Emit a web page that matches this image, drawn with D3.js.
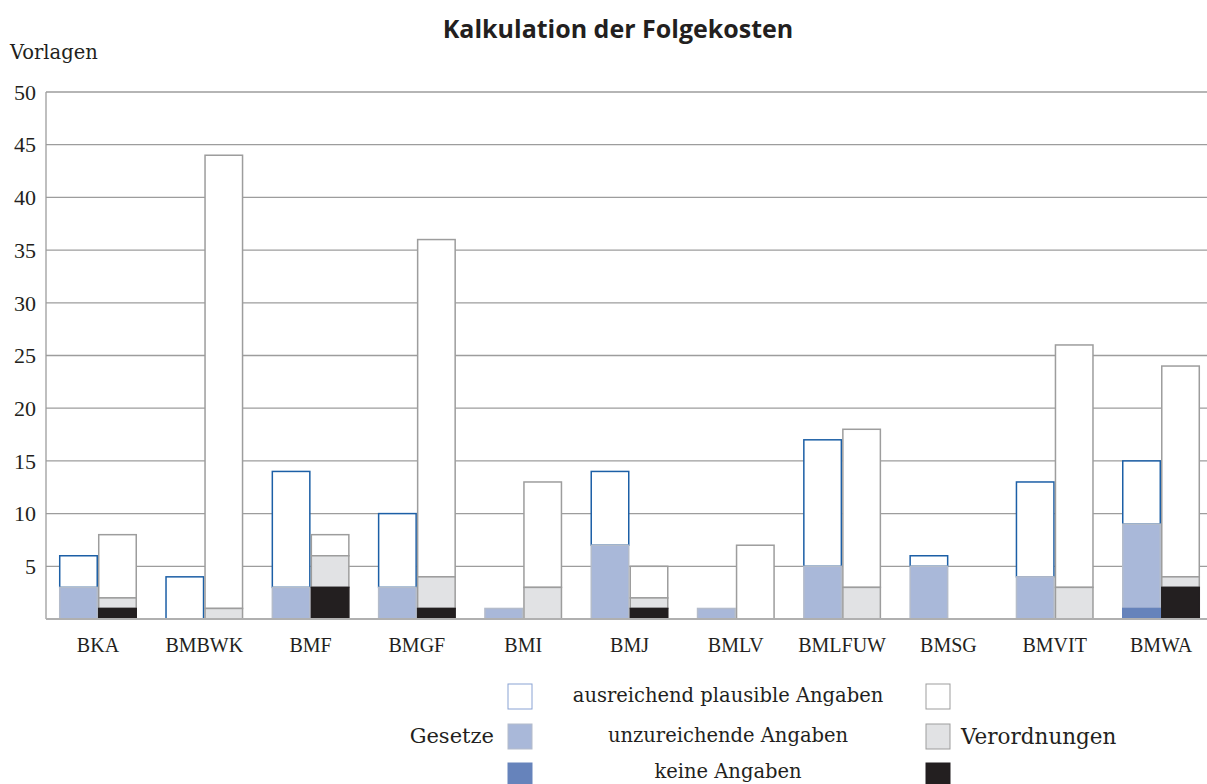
<!DOCTYPE html>
<html>
<head>
<meta charset="utf-8">
<script src="https://cdn.jsdelivr.net/npm/d3@7"></script>
<style>
body { margin: 0; background: #fff; }
text { font-family: "Liberation Serif", "DejaVu Serif", serif; fill: #231f20; }
.wide { font-family: "DejaVu Serif", serif; }
</style>
</head>
<body>
<svg id="chart" width="1207" height="784"></svg>
<script>
// categories (Ressorts)
var ressorts = ["BKA", "BMBWK", "BMF", "BMGF", "BMI", "BMJ", "BMLV", "BMLFUW", "BMSG", "BMVIT", "BMWA"];
// Gesetze: keine / unzureichende / ausreichend plausible Angaben
var gesetzeKeine = [0, 0, 0, 0, 0, 0, 0, 0, 0, 0, 1];
var gesetzeUnzu  = [3, 0, 3, 3, 1, 7, 1, 5, 5, 4, 8];
var gesetzeAusr  = [3, 4, 11, 7, 0, 7, 0, 12, 1, 9, 6];
// Verordnungen: keine / unzureichende / ausreichend plausible Angaben
var verordKeine = [1, 0, 3, 1, 0, 1, 0, 0, 0, 0, 3];
var verordUnzu  = [1, 1, 3, 3, 3, 1, 0, 3, 0, 3, 1];
var verordAusr  = [6, 43, 2, 32, 10, 3, 7, 15, 0, 23, 20];
var yTicks = [5, 10, 15, 20, 25, 30, 35, 40, 45, 50];
var legendLabels = ["ausreichend plausible Angaben", "unzureichende Angaben", "keine Angaben"];

var margin = { top: 92, right: -6, bottom: 165, left: 46 },
    width = 1207 - margin.left - margin.right,
    height = 784 - margin.top - margin.bottom;

var svg = d3.select("#chart");

var xScale = d3.scaleBand().domain(ressorts).range([0, width]).paddingInner(0.266).paddingOuter(0.122);
var yScale = d3.scaleLinear().domain([0, 50]).range([height, 0]);

// styles per segment: [fill, stroke]
var gStyle = {
  keine: ["#6683bb", "#6683bb"],
  unzu: ["#a9b8d9", "#b4bccb"],
  ausr: ["#ffffff", "#1c5fa6"]
};
var vStyle = {
  keine: ["#231f20", "#231f20"],
  unzu: ["#e1e2e4", "#9d9d9d"],
  ausr: ["#ffffff", "#9d9d9d"]
};

var g = svg.append("g").attr("transform", "translate(" + margin.left + "," + margin.top + ")");

// grid lines
g.selectAll(".grid").data(yTicks).enter().append("line")
  .attr("x1", 0).attr("x2", width)
  .attr("y1", function(d){ return yScale(d); }).attr("y2", function(d){ return yScale(d); })
  .attr("stroke", "#9d9d9d").attr("stroke-width", 1.3);

// y tick labels
g.selectAll(".ytick").data(yTicks).enter().append("text")
  .attr("x", -10).attr("y", function(d){ return yScale(d); })
  .attr("dy", "0.35em")
  .attr("text-anchor", "end").style("font-size", "22px")
  .text(function(d){ return d; });

// left axis line
g.append("line").attr("x1", 0).attr("x2", 0).attr("y1", 0).attr("y2", height).attr("stroke", "#9d9d9d").attr("stroke-width", 1.3);

var bw = xScale.bandwidth() / 2;
var keys = ["keine", "unzu", "ausr"];

function stack(i, parts, st, xoff) {
  var segs = [], base = 0;
  parts.forEach(function(arr, k) {
    segs.push({ k: keys[k], y0: base, y1: base + arr[i] });
    base += arr[i];
  });
  // top segment first so lower fills sit over its bottom edge
  segs.reverse().forEach(function(s) {
    if (s.y1 > s.y0) {
      g.append("rect")
        .attr("x", xScale(ressorts[i]) + xoff + 0.75)
        .attr("y", yScale(s.y1))
        .attr("width", bw - 1.5)
        .attr("height", yScale(s.y0) - yScale(s.y1))
        .attr("fill", st[s.k][0])
        .attr("stroke", st[s.k][1])
        .attr("stroke-width", 1.5);
    }
  });
}

ressorts.forEach(function(r, i) {
  stack(i, [gesetzeKeine, gesetzeUnzu, gesetzeAusr], gStyle, 0);
  stack(i, [verordKeine, verordUnzu, verordAusr], vStyle, bw);
});

// bottom axis line
g.append("line").attr("x1", 0).attr("x2", width).attr("y1", height).attr("y2", height).attr("stroke", "#b0b0b0").attr("stroke-width", 2);

// x labels
g.selectAll(".xlab").data(ressorts).enter().append("text")
  .attr("x", function(d){ return xScale(d) + xScale.bandwidth() / 2; })
  .attr("y", height + 33)
  .attr("text-anchor", "middle").style("font-size", "20px")
  .text(function(d){ return d; });

// title and y label
svg.append("text").attr("x", 618).attr("y", 38).attr("text-anchor", "middle")
  .style("font-family", "'Open Sans', 'DejaVu Sans', sans-serif").style("font-weight", "bold").style("font-size", "25px")
  .text("Kalkulation der Folgekosten");
svg.append("text").attr("class", "wide").attr("x", 10).attr("y", 59).style("font-size", "19.5px").text("Vorlagen");

// legend
var legKeys = ["ausr", "unzu", "keine"];
var legY = [696, 736, 775];
var textY = [702, 742, 778];
legKeys.forEach(function(k, j) {
  svg.append("rect").attr("x", 508).attr("y", legY[j] - 12).attr("width", 24).attr("height", 25)
    .attr("fill", gStyle[k][0]).attr("stroke", k == "ausr" ? "#8aa3d4" : gStyle[k][1]).attr("stroke-width", 1);
  svg.append("rect").attr("x", 926).attr("y", legY[j] - 12).attr("width", 24).attr("height", 25)
    .attr("fill", vStyle[k][0]).attr("stroke", vStyle[k][1]).attr("stroke-width", 1);
  svg.append("text").attr("class", "wide").attr("x", 728).attr("y", textY[j]).attr("text-anchor", "middle")
    .style("font-size", "19.5px").text(legendLabels[j]);
});
svg.append("text").attr("class", "wide").attr("x", 494).attr("y", 736).attr("dy", "0.35em").attr("text-anchor", "end").style("font-size", "21px").text("Gesetze");
svg.append("text").attr("class", "wide").attr("x", 961).attr("y", 736).attr("dy", "0.35em").style("font-size", "21.5px").text("Verordnungen");
</script>
</body>
</html>
